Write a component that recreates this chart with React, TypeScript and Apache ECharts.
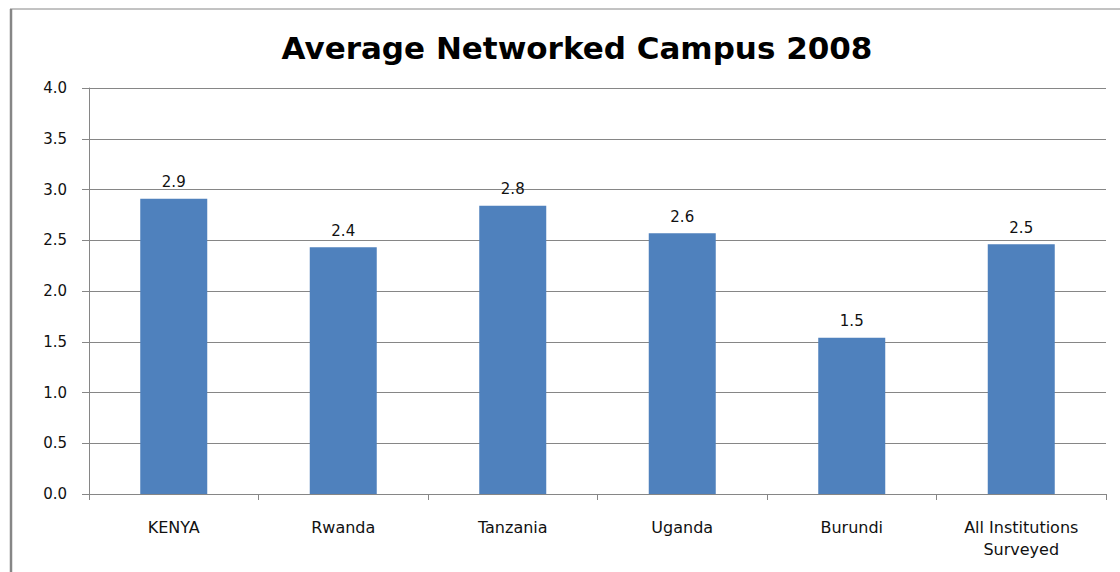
import React, { useEffect, useRef } from "react";
import * as echarts from "echarts";

const categories = ["KENYA", "Rwanda", "Tanzania", "Uganda", "Burundi", "All Institutions\nSurveyed"];
const values = [2.91, 2.43, 2.84, 2.57, 1.54, 2.46];
const titleText = "Average Networked Campus 2008";

export default function App() {
  const ref = useRef<HTMLDivElement>(null);
  useEffect(() => {
    document.body.style.margin = "0";
    const chart = echarts.init(ref.current!, null, { renderer: "svg" });
    const gray = "#868686";
    chart.setOption({
      animation: false,
      backgroundColor: "#ffffff",
      title: {
        text: titleText,
        left: 572,
        textAlign: "center",
        top: 27,
        textStyle: { fontFamily: "DejaVu Sans", fontWeight: "bold", fontSize: 31, color: "#000" },
      },
      graphic: [
        { type: "line", shape: { x1: 10, y1: 9, x2: 1120, y2: 9 }, style: { stroke: gray, lineWidth: 1 } },
        { type: "line", shape: { x1: 11, y1: 9, x2: 11, y2: 572 }, style: { stroke: gray, lineWidth: 2.5 } },
      ],
      grid: { left: 89, right: 14, top: 88, bottom: 78 },
      xAxis: {
        type: "category",
        data: categories,
        axisLine: { lineStyle: { color: gray } },
        axisTick: { show: true, length: 6, lineStyle: { color: gray } },
        axisLabel: {
          fontFamily: "DejaVu Sans",
          fontSize: 16,
          color: "#111",
          margin: 22,
          lineHeight: 22,
          interval: 0,
        },
      },
      yAxis: {
        type: "value",
        min: 0,
        max: 4,
        interval: 0.5,
        axisLine: { show: true, lineStyle: { color: gray } },
        axisTick: { show: true, length: 7, lineStyle: { color: gray } },
        splitLine: { lineStyle: { color: gray } },
        axisLabel: {
          fontFamily: "DejaVu Sans",
          fontSize: 15,
          color: "#111",
          margin: 22,
          formatter: (v: number) => v.toFixed(1),
        },
      },
      series: [
        {
          type: "bar",
          data: values,
          barWidth: 67,
          itemStyle: { color: "#4F81BD" },
          label: {
            show: true,
            position: "top",
            distance: 9,
            fontFamily: "DejaVu Sans",
            fontSize: 15,
            color: "#111",
            formatter: (p: any) => Number(p.value).toFixed(1),
          },
        },
      ],
    });
    return () => chart.dispose();
  }, []);
  return <div ref={ref} style={{ width: 1120, height: 572 }} />;
}
